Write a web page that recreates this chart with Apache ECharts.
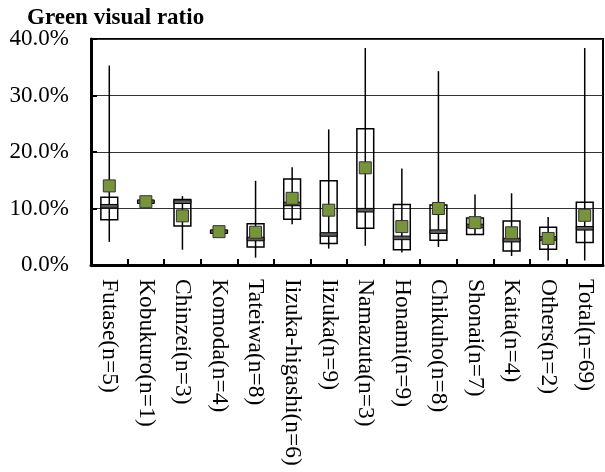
<!DOCTYPE html>
<html>
<head>
<meta charset="utf-8">
<script src="https://cdn.jsdelivr.net/npm/echarts@6/dist/echarts.min.js"></script>
<style>
  html, body { margin: 0; padding: 0; background: #fff; }
  #chart { width: 605px; height: 472px; }
</style>
</head>
<body>
<div id="chart"></div>
<script>
// Green visual ratio by area: min / Q1 / median / Q3 / max and mean (%)
const categories = ['Futase(n=5)', 'Kobukuro(n=1)', 'Chinzei(n=3)', 'Komoda(n=4)', 'Tateiwa(n=8)',
  'Iizuka-higashi(n=6)', 'Iizuka(n=9)', 'Namazuta(n=3)', 'Honami(n=9)', 'Chikuho(n=8)',
  'Shonai(n=7)', 'Kaita(n=4)', 'Others(n=2)', 'Total(n=69)'];
const minVals    = [4.1, 11.2, 2.7, 5.6, 1.3, 7.2, 2.9, 3.4, 2.2, 3.2, 5.4, 1.6, 0.8, 0.8];
const q1Vals     = [8.0, 11.2, 6.9, 5.7, 3.2, 8.1, 3.8, 6.5, 2.7, 4.4, 5.4, 2.5, 2.8, 4.0];
const medianVals = [10.4, 11.2, 11.2, 5.9, 4.6, 10.8, 5.4, 9.7, 4.8, 5.9, 6.9, 4.4, 4.7, 6.5];
const q3Vals     = [12.0, 11.2, 11.6, 6.1, 7.3, 15.2, 14.9, 24.1, 10.7, 10.6, 8.3, 7.8, 6.7, 11.1];
const maxVals    = [35.3, 11.2, 12.2, 6.3, 14.9, 17.3, 24.0, 38.4, 17.1, 34.3, 12.5, 12.7, 8.5, 38.4];
const meanVals   = [14.0, 11.2, 8.7, 5.9, 5.8, 11.8, 9.7, 17.2, 6.8, 10.0, 7.5, 5.7, 4.7, 8.8];
const yTicks = [0, 10, 20, 30, 40];

const FONT = 'Liberation Serif';

const boxData = categories.map((c, i) =>
  [i, minVals[i], q1Vals[i], medianVals[i], q3Vals[i], maxVals[i]]);
const meanData = categories.map((c, i) => [i, meanVals[i]]);

function renderBox(params, api) {
  const idx = api.value(0);
  const pMin = api.coord([idx, api.value(1)]);
  const pQ1 = api.coord([idx, api.value(2)]);
  const pMed = api.coord([idx, api.value(3)]);
  const pQ3 = api.coord([idx, api.value(4)]);
  const pMax = api.coord([idx, api.value(5)]);
  const bandW = api.size([1, 0])[0];
  const w = bandW * 0.46;
  const x = pQ1[0];
  return {
    type: 'group',
    children: [
      {
        type: 'rect',
        shape: { x: x - w / 2, y: pQ3[1], width: w, height: pQ1[1] - pQ3[1] },
        style: { fill: 'none', stroke: '#000', lineWidth: 1.5 }
      },
      {
        type: 'line',
        shape: { x1: x, y1: pMax[1], x2: x, y2: pMin[1] },
        style: { stroke: '#000', lineWidth: 1.5 }
      },
      {
        type: 'rect',
        shape: { x: x - w / 2, y: pMed[1] - 1.8, width: w, height: 3.6 },
        style: { fill: '#595959', stroke: '#000', lineWidth: 1 }
      }
    ]
  };
}

const chart = echarts.init(document.getElementById('chart'), null, { renderer: 'canvas' });
chart.setOption({
  animation: false,
  backgroundColor: '#fff',
  title: {
    text: 'Green visual ratio',
    left: 22,
    top: 2,
    textStyle: { fontFamily: FONT, fontWeight: 'bold', fontSize: 23, color: '#000' }
  },
  grid: {
    left: 91, right: 2, top: 39, bottom: 207,
    show: true, borderColor: '#000', borderWidth: 2, backgroundColor: 'transparent'
  },
  xAxis: {
    type: 'category',
    data: categories,
    boundaryGap: true,
    axisLine: { show: true, lineStyle: { color: '#000', width: 3 } },
    axisTick: { show: true, inside: true, length: 6, interval: 0, lineStyle: { color: '#000', width: 2 } },
    axisLabel: {
      interval: 0, rotate: -90, margin: 14,
      fontFamily: FONT, fontSize: 23.5, color: '#000'
    },
    splitLine: { show: false }
  },
  yAxis: {
    type: 'value',
    min: yTicks[0], max: yTicks[yTicks.length - 1], interval: 10,
    axisLine: { show: true, lineStyle: { color: '#000', width: 3 } },
    axisTick: { show: true, inside: true, length: 6, lineStyle: { color: '#000', width: 2 } },
    axisLabel: {
      margin: 22, fontFamily: FONT, fontSize: 23, color: '#000',
      formatter: v => v.toFixed(1) + '%'
    },
    splitLine: { show: true, lineStyle: { color: '#333', width: 1 } }
  },
  series: [
    {
      type: 'custom',
      renderItem: renderBox,
      data: boxData,
      encode: { x: 0, y: [1, 2, 3, 4, 5] },
      z: 3
    },
    {
      type: 'scatter',
      data: meanData,
      symbol: 'rect',
      symbolSize: 12,
      itemStyle: { color: '#77933C', borderColor: '#333', borderWidth: 1, opacity: 1 },
      z: 5
    }
  ]
});
</script>
</body>
</html>
